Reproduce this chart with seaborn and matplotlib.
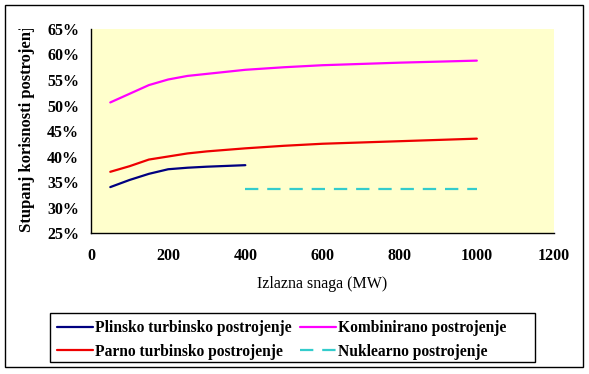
import matplotlib
matplotlib.use("Agg")
import matplotlib.pyplot as plt
import seaborn as sns
import pandas as pd
from matplotlib.patches import Rectangle
from matplotlib.ticker import PercentFormatter
from matplotlib.transforms import Bbox, TransformedBbox

sns.set_theme(style="white")
plt.rcParams['font.family'] = ['Liberation Serif', 'DejaVu Serif']

# Data
plin_x = [50, 100, 150, 200, 250, 300, 400]
plin_y = [34.0, 35.4, 36.6, 37.5, 37.8, 38.0, 38.3]
parno_x = [50, 100, 150, 200, 250, 300, 400, 500, 600, 800, 1000]
parno_y = [37.0, 38.1, 39.4, 40.0, 40.6, 41.0, 41.6, 42.1, 42.5, 43.0, 43.5]
komb_x = [50, 100, 150, 200, 250, 300, 400, 500, 600, 800, 1000]
komb_y = [50.6, 52.3, 54.0, 55.1, 55.8, 56.2, 57.0, 57.5, 57.9, 58.4, 58.8]
nukl_x = [400, 1000]
nukl_y = [33.6, 33.6]

labels = ["Plinsko turbinsko postrojenje", "Parno turbinsko postrojenje",
          "Kombinirano postrojenje", "Nuklearno postrojenje"]
colors = ["#000080", "#EE0000", "#FF00FF", "#33CCCC"]

W, H = 589, 374
fig = plt.figure(figsize=(W / 100, H / 100), dpi=100)
fig.patch.set_facecolor("white")
ax = fig.add_axes([91 / W, (H - 233) / H, 463 / W, 204 / H])
ax.set_facecolor("#FFFFCC")

series = [(plin_x, plin_y), (parno_x, parno_y), (komb_x, komb_y), (nukl_x, nukl_y)]
for (xs, ys), lab, col in zip(series, labels, colors):
    df = pd.DataFrame({"x": xs, "y": ys})
    sns.lineplot(data=df, x="x", y="y", ax=ax, color=col, linewidth=1.6,
                 label=lab, sort=False, legend=False)
ax.lines[3].set_dashes([6, 4])

ax.set_xlim(0, 1200)
ax.set_ylim(25, 65)
ax.set_xticks(range(0, 1201, 200))
ax.set_yticks(range(25, 66, 5))
ax.yaxis.set_major_formatter(PercentFormatter(decimals=0))
for s in ["top", "right"]:
    ax.spines[s].set_visible(False)
for s in ["left", "bottom"]:
    ax.spines[s].set_color("black")
    ax.spines[s].set_linewidth(1.0)
ax.tick_params(axis="both", which="major", direction="out", length=3.5, width=1,
               color="black", labelsize=11.5, labelcolor="black")
ax.tick_params(axis="x", pad=7)
ax.tick_params(axis="y", pad=5)
for t in ax.get_xticklabels() + ax.get_yticklabels():
    t.set_fontweight("bold")

ax.set_xlabel("Izlazna snaga (MW)", fontsize=11.5, color="black", labelpad=9)
ax.set_ylabel("")

# y label: truncated at the plot area's top, as in the reference
yl = fig.text(27 / W, (H - 232) / H, "Stupanj korisnosti postrojenja",
              rotation=90, ha="center", va="bottom", fontsize=12,
              fontweight="bold", color="black")
yl.set_clip_box(TransformedBbox(Bbox([[0, 0], [1, (H - 29) / H]]), fig.transFigure))
yl.set_clip_on(True)

# outer frame
frame = Rectangle((5 / W, (H - 367) / H), (583 - 5) / W, (367 - 5) / H,
                  transform=fig.transFigure, fill=False, edgecolor="black",
                  linewidth=1.0, zorder=10)
fig.patches.append(frame)

# legend box
lbox = Rectangle((50 / W, (H - 362) / H), (535 - 50) / W, (362 - 313) / H,
                 transform=fig.transFigure, fill=False, edgecolor="black",
                 linewidth=1.0, zorder=10)
fig.patches.append(lbox)

handles = ax.lines[:4]
leg = fig.legend(handles, labels, ncol=2, loc="upper left",
                 bbox_to_anchor=(50 / W, (H - 313) / H),
                 frameon=False,
                 prop={"family": "Liberation Serif", "weight": "bold", "size": 11.2},
                 handlelength=2.3, handletextpad=0.15, borderpad=0.45,
                 labelspacing=0.5, columnspacing=0.55, borderaxespad=0)
for t in leg.get_texts():
    t.set_color("black")

fig.savefig("out.png", dpi=100)
